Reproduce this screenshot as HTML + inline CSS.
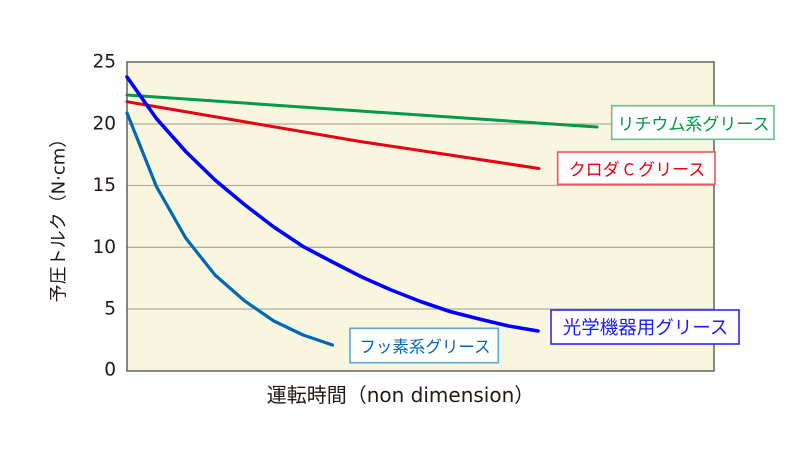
<!DOCTYPE html>
<html>
<head>
<meta charset="utf-8">
<style>
  html, body { margin: 0; padding: 0; background: #ffffff; }
  body { width: 800px; height: 450px; overflow: hidden; }
  svg { display: block; }
  text { font-family: "DejaVu Sans", "Noto Sans CJK JP", sans-serif; fill: #231815; }
  .lbl { font-family: "Noto Sans CJK JP", "DejaVu Sans", sans-serif; }
</style>
</head>
<body>
<svg width="800" height="450" viewBox="0 0 800 450" xmlns="http://www.w3.org/2000/svg">
  <!-- plot background -->
  <rect x="127" y="62" width="587" height="309" fill="#f8f6de"/>
  <!-- gridlines -->
  <g stroke="#b3ad9a" stroke-width="1.3">
    <line x1="127" y1="124" x2="714" y2="124"/>
    <line x1="127" y1="185.5" x2="714" y2="185.5"/>
    <line x1="127" y1="247.3" x2="714" y2="247.3"/>
    <line x1="127" y1="309" x2="714" y2="309"/>
  </g>
  <!-- frame -->
  <rect x="127" y="62" width="587" height="309" fill="none" stroke="#595757" stroke-width="1.4"/>

  <!-- tick labels -->
  <g font-size="18.5" text-anchor="end" dominant-baseline="central">
    <text x="116" y="62">25</text>
    <text x="116" y="124">20</text>
    <text x="116" y="185.5">15</text>
    <text x="116" y="247.3">10</text>
    <text x="116" y="309">5</text>
    <text x="116" y="370">0</text>
  </g>

  <!-- axis titles -->
  <text x="400.5" y="395" font-size="20" text-anchor="middle" dominant-baseline="central">運転時間（non dimension）</text>
  <text transform="translate(59,216) rotate(-90)" font-size="18" text-anchor="middle" dominant-baseline="central">予圧トルク（N·cm）</text>

  <!-- series -->
  <g fill="none" stroke-linejoin="round" stroke-linecap="round">
    <polyline stroke="#00994a" stroke-width="3" points="127,95 360,111 597,127"/>
    <polyline stroke="#e60012" stroke-width="3" points="127,101.7 243,121.5 360,141.5 450,155 539,168.5"/>
    <polyline stroke="#0000ff" stroke-width="3.6" points="127,77 156.4,118.5 185.7,151.5 215,180 244.4,204.5 273.8,227 303.1,246.5 332.5,262 361.8,277 391.2,290 420.5,301.5 449.9,311.5 479.2,319 508.6,326 538,331"/>
    <polyline stroke="#0068b7" stroke-width="3.2" points="127,113 156.4,186.5 185.7,238 215,275 244.4,300.7 273.8,321 303.1,335 332.5,345"/>
  </g>

  <!-- label boxes -->
  <rect x="611.7" y="105.7" width="162.3" height="33.6" fill="#ffffff" stroke="#6cc08b" stroke-width="1.6"/>
  <text class="lbl" x="693.5" y="122.5" font-size="17" text-anchor="middle" dominant-baseline="central" style="fill:#009944">リチウム系グリース</text>

  <rect x="557.7" y="152" width="157.3" height="32.3" fill="#ffffff" stroke="#ec5560" stroke-width="1.6"/>
  <text class="lbl" x="637" y="168" font-size="17" text-anchor="middle" dominant-baseline="central" style="fill:#e60012">クロダ&#160;C&#160;グリース</text>

  <rect x="551" y="310" width="188" height="34" fill="#ffffff" stroke="#2a2aff" stroke-width="1.6"/>
  <text class="lbl" x="645.5" y="327" font-size="18.5" text-anchor="middle" dominant-baseline="central" style="fill:#1a1aff">光学機器用グリース</text>

  <rect x="350" y="328.3" width="148.3" height="34.4" fill="#ffffff" stroke="#5aaad8" stroke-width="1.6"/>
  <text class="lbl" x="425" y="345.5" font-size="16.5" text-anchor="middle" dominant-baseline="central" style="fill:#0068b7">フッ素系グリース</text>
</svg>
</body>
</html>
